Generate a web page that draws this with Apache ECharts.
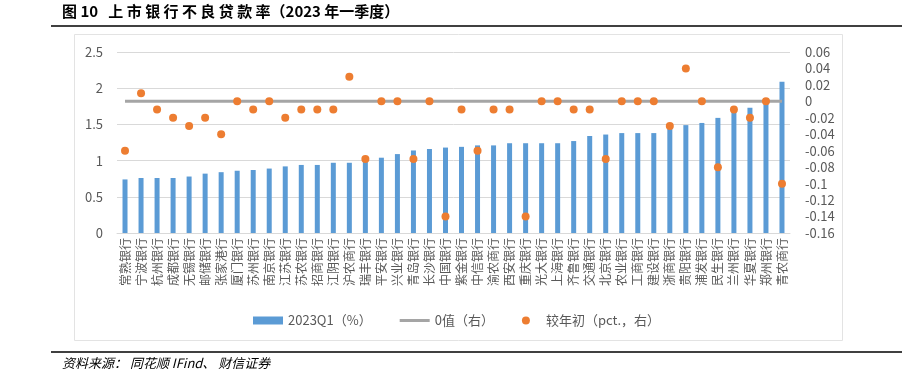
<!DOCTYPE html>
<html>
<head>
<meta charset="utf-8">
<script src="https://cdn.jsdelivr.net/npm/echarts@6/dist/echarts.min.js"></script>
<style>
  html, body { margin: 0; padding: 0; background: #fff; }
  #chart { width: 913px; height: 376px; }
</style>
</head>
<body>
<div id="chart"></div>
<script>
// 银行名称（按不良率升序）
const banks = ['常熟银行', '宁波银行', '杭州银行', '成都银行', '无锡银行', '邮储银行', '张家港行', '厦门银行', '苏州银行', '南京银行',
  '江苏银行', '苏农银行', '招商银行', '江阴银行', '沪农商行', '瑞丰银行', '平安银行', '兴业银行', '青岛银行', '长沙银行',
  '中国银行', '紫金银行', '中信银行', '渝农商行', '西安银行', '重庆银行', '光大银行', '上海银行', '齐鲁银行', '交通银行',
  '北京银行', '农业银行', '工商银行', '建设银行', '浙商银行', '贵阳银行', '浦发银行', '民生银行', '兰州银行', '华夏银行',
  '郑州银行', '青农商行']
// 2023Q1 不良贷款率（%）
const nplRate = [0.74, 0.76, 0.76, 0.76, 0.78, 0.82, 0.84, 0.86, 0.87, 0.89,
  0.92, 0.94, 0.94, 0.97, 0.97, 0.99, 1.04, 1.09, 1.14, 1.16,
  1.18, 1.19, 1.21, 1.21, 1.24, 1.24, 1.24, 1.24, 1.27, 1.34,
  1.36, 1.38, 1.38, 1.38, 1.46, 1.49, 1.52, 1.59, 1.71, 1.73,
  1.86, 2.09]
// 较年初变化（pct.）
const ytdChange = [-0.06, 0.01, -0.01, -0.02, -0.03, -0.02, -0.04, 0, -0.01, 0,
  -0.02, -0.01, -0.01, -0.01, 0.03, -0.07, 0, 0, -0.07, 0,
  -0.14, -0.01, -0.06, -0.01, -0.01, -0.14, 0, 0, -0.01, -0.01,
  -0.07, 0, 0, 0, -0.03, 0.04, 0, -0.08, -0.01, -0.02,
  0, -0.1]
const zeroLine = banks.map(() => 0)

const txt = '#595959'
const chart = echarts.init(document.getElementById('chart'), null, { renderer: 'canvas' })

chart.setOption({
  animation: false,
  textStyle: { fontFamily: '"Noto Sans CJK SC", "Noto Sans", sans-serif' },
  graphic: [
    {
      type: 'text', left: 62, top: 4,
      style: { text: '图 10   上 市 银 行 不 良 贷 款 率（2023 年一季度）', font: 'bold 15px "Noto Sans CJK SC"', fill: '#000' }
    },
    { type: 'line', shape: { x1: 51, y1: 26, x2: 902, y2: 26 }, style: { stroke: '#000', lineWidth: 1.5 } },
    { type: 'rect', shape: { x: 74.5, y: 34.5, width: 768, height: 306 }, style: { fill: 'none', stroke: '#e3e3e3', lineWidth: 1 }, z: -1 },
    { type: 'line', shape: { x1: 51, y1: 352, x2: 902, y2: 352 }, style: { stroke: '#000', lineWidth: 1.5 } },
    {
      type: 'text', left: 62, top: 357,
      style: { text: '资料来源： 同花顺 IFind、 财信证券', font: 'italic 13px "Noto Sans CJK SC"', fill: '#000' }
    }
  ],
  grid: { left: 117, right: 123, top: 52, bottom: 143 },
  legend: {
    top: 309,
    left: 248,
    itemGap: 28,
    textStyle: { color: txt, fontSize: 13 },
    data: [
      { name: '2023Q1（%）', icon: 'rect', itemStyle: { color: '#5B9BD5' } },
      { name: '0值（右）', icon: 'path://M0,4L30,4L30,7L0,7Z' },
      { name: '较年初（pct.，右）', icon: 'circle' }
    ],
    itemWidth: 30,
    itemHeight: 8
  },
  xAxis: {
    type: 'category',
    data: banks,
    axisLine: { show: true, lineStyle: { color: '#d9d9d9' } },
    axisTick: { show: false },
    axisLabel: { color: txt, fontSize: 12, rotate: 90, interval: 0, margin: 5 }
  },
  yAxis: [
    {
      type: 'value', min: 0, max: 2.5, interval: 0.5,
      axisLine: { show: false }, axisTick: { show: false },
      axisLabel: { color: txt, fontSize: 13, margin: 14 },
      splitLine: { lineStyle: { color: '#d9d9d9' } }
    },
    {
      type: 'value', min: -0.16, max: 0.06, interval: 0.02,
      axisLine: { show: false }, axisTick: { show: false },
      axisLabel: { color: txt, fontSize: 13, margin: 15, formatter: v => String(Math.round(v * 100) / 100) },
      splitLine: { show: false }
    }
  ],
  series: [
    {
      name: '2023Q1（%）', type: 'bar', data: nplRate, barWidth: 5,
      itemStyle: { color: '#5B9BD5' }
    },
    {
      name: '0值（右）', type: 'line', yAxisIndex: 1, data: zeroLine,
      symbol: 'none', lineStyle: { color: '#A5A5A5', width: 3 }, itemStyle: { color: '#A5A5A5' }
    },
    {
      name: '较年初（pct.，右）', type: 'scatter', yAxisIndex: 1, data: ytdChange,
      symbolSize: 8, itemStyle: { color: '#ED7D31', opacity: 1 }, z: 5
    }
  ]
})
</script>
</body>
</html>
